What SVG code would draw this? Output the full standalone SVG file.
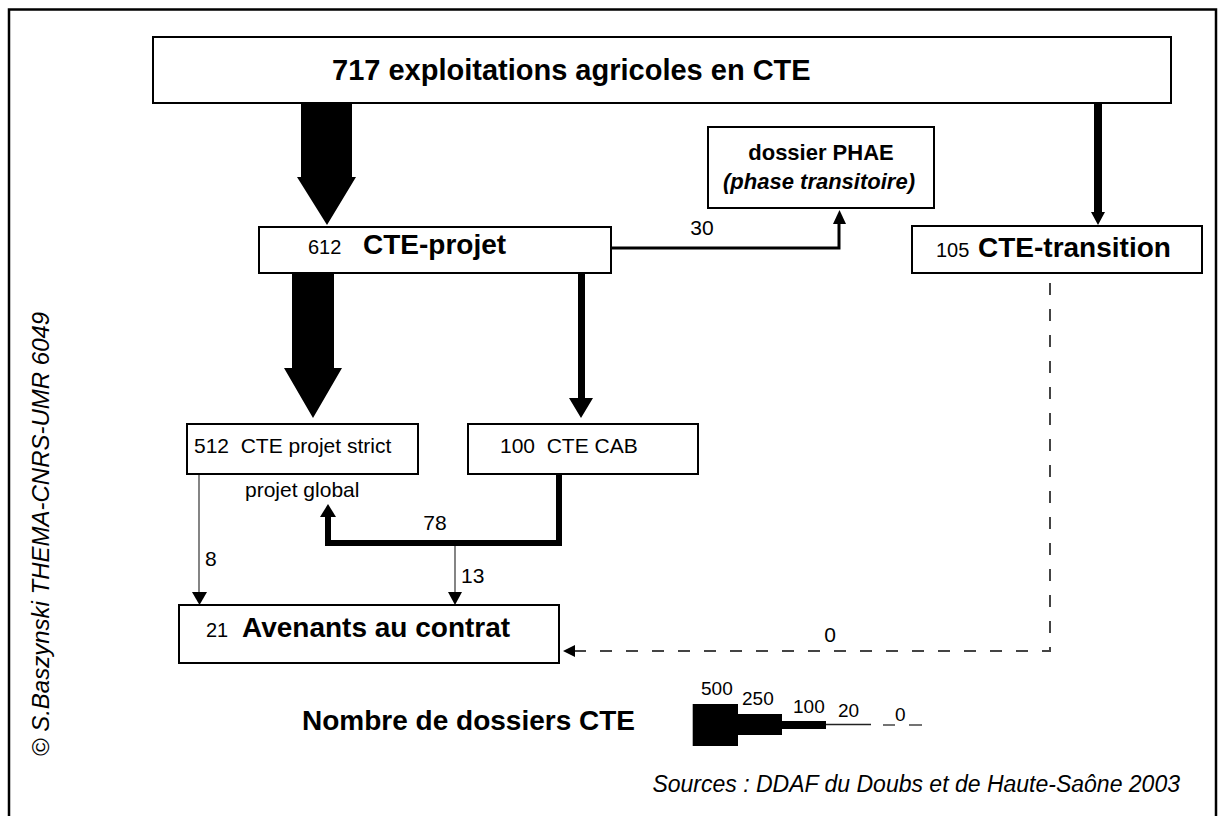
<svg xmlns="http://www.w3.org/2000/svg" width="1218" height="816" viewBox="0 0 1218 816">
<style>
  text { font-family: "Liberation Sans", Arial, sans-serif; fill: #000; }
  .box { fill: #fff; stroke: #000; stroke-width: 2; }
  .b { font-weight: bold; }
  .big { font-size: 28px; font-weight: bold; }
  .num { font-size: 20px; }
  .lbl { font-size: 21px; }
  .thin { fill: none; stroke: #333; stroke-width: 1.2; }
  .dash { fill: none; stroke: #444; stroke-width: 2; stroke-dasharray: 12 14; }
  .solid { fill: #000; stroke: none; }
</style>
<rect x="0" y="0" width="1218" height="816" fill="#fff"/>
<rect x="9" y="9.5" width="1207" height="812" fill="none" stroke="#000" stroke-width="2.5"/>

<g id="connectors">
  <!-- 717 -> 612 big arrow -->
  <polygon class="solid" points="301,103 352,103 352,177 356,177 327,225 297,177 301,177"/>
  <!-- 612 -> 512 big arrow -->
  <polygon class="solid" points="292,273 334,273 334,368 342,368 313,418 284,368 292,368"/>
  <!-- 612 -> CAB -->
  <polygon class="solid" points="578,273 585,273 585,398 593,398 581,418 569,398 578,398"/>
  <!-- 717 -> transition -->
  <polygon class="solid" points="1094,103 1102,103 1102,212 1105,212 1098,225 1091,212 1094,212"/>
  <!-- 612 -> PHAE (30) -->
  <polyline points="611,248 839,248 839,222" fill="none" stroke="#000" stroke-width="3"/>
  <polygon class="solid" points="833,224 846,224 839.5,210"/>
  <text class="lbl" x="702" y="235" text-anchor="middle">30</text>
  <!-- CAB -> projet global (78) -->
  <polyline points="559,474 559,543 328,543 328,515" fill="none" stroke="#000" stroke-width="6" stroke-linejoin="miter"/>
  <polygon class="solid" points="320,517 336,517 328,504"/>
  <text class="lbl" x="435" y="530" text-anchor="middle">78</text>
  <!-- 512 -> 21 (8) -->
  <line class="thin" x1="199" y1="474" x2="199" y2="593"/>
  <polygon class="solid" points="192,592 207,592 199.5,605"/>
  <text class="lbl" x="205" y="566">8</text>
  <!-- 78 branch -> 21 (13) -->
  <line class="thin" x1="455" y1="546" x2="455" y2="593"/>
  <polygon class="solid" points="448,592 462,592 455,605"/>
  <text class="lbl" x="461" y="583">13</text>
  <!-- transition -> 21 (0) dashed -->
  <polyline class="dash" points="1050,283 1050,651 575,651"/>
  <polygon class="solid" points="575,645 575,657 563,651"/>
  <text class="lbl" x="830" y="642" text-anchor="middle">0</text>
</g>

<g id="node-717">
  <rect class="box" x="153" y="37" width="1018" height="66"/>
  <text x="332" y="80" font-size="29" class="b">717 exploitations agricoles en CTE</text>
</g>

<g id="node-612">
  <rect class="box" x="259" y="227" width="352" height="46"/>
  <text x="308" y="254"><tspan class="num">612</tspan><tspan class="big" x="363">CTE-projet</tspan></text>
</g>

<g id="node-phae">
  <rect class="box" x="708" y="127" width="226" height="81"/>
  <text x="821" y="160" text-anchor="middle" font-size="22" class="b">dossier PHAE</text>
  <text x="819" y="189" text-anchor="middle" font-size="22" class="b" font-style="italic">(phase transitoire)</text>
</g>

<g id="node-105">
  <rect class="box" x="912" y="226" width="290" height="47"/>
  <text x="936" y="257"><tspan class="num">105</tspan><tspan class="big" x="978">CTE-transition</tspan></text>
</g>

<g id="node-512">
  <rect class="box" x="187" y="424" width="231" height="50"/>
  <text x="194" y="453" class="lbl" xml:space="preserve">512  CTE projet strict</text>
  <text x="245" y="497" class="lbl">projet global</text>
</g>

<g id="node-100">
  <rect class="box" x="468" y="424" width="230" height="50"/>
  <text x="500" y="453" class="lbl" xml:space="preserve">100  CTE CAB</text>
</g>

<g id="node-21">
  <rect class="box" x="179" y="605" width="380" height="58"/>
  <text x="206" y="637"><tspan class="num">21</tspan><tspan class="big" x="242">Avenants au contrat</tspan></text>
</g>

<g id="legend">
  <text x="302" y="730" font-size="28" class="b">Nombre de dossiers CTE</text>
  <rect class="solid" x="692.7" y="704" width="45.3" height="42"/>
  <rect class="solid" x="738" y="714" width="44" height="21"/>
  <rect class="solid" x="782" y="721" width="44" height="8"/>
  <line x1="826" y1="724.5" x2="871" y2="724.5" stroke="#222" stroke-width="1.5"/>
  <line x1="883" y1="725" x2="895" y2="725" stroke="#444" stroke-width="1.5"/>
  <line x1="909" y1="725" x2="922" y2="725" stroke="#444" stroke-width="1.5"/>
  <text x="701" y="695" font-size="19">500</text>
  <text x="742" y="705" font-size="19">250</text>
  <text x="793" y="713" font-size="19">100</text>
  <text x="838" y="717" font-size="19">20</text>
  <text x="895" y="721" font-size="19">0</text>
</g>

<text x="1180" y="792" font-size="23" font-style="italic" text-anchor="end">Sources : DDAF du Doubs et de Haute-Saône 2003</text>
<text transform="translate(49,534) rotate(-90)" font-size="24" font-style="italic" text-anchor="middle">© S.Baszynski THEMA-CNRS-UMR 6049</text>
</svg>
